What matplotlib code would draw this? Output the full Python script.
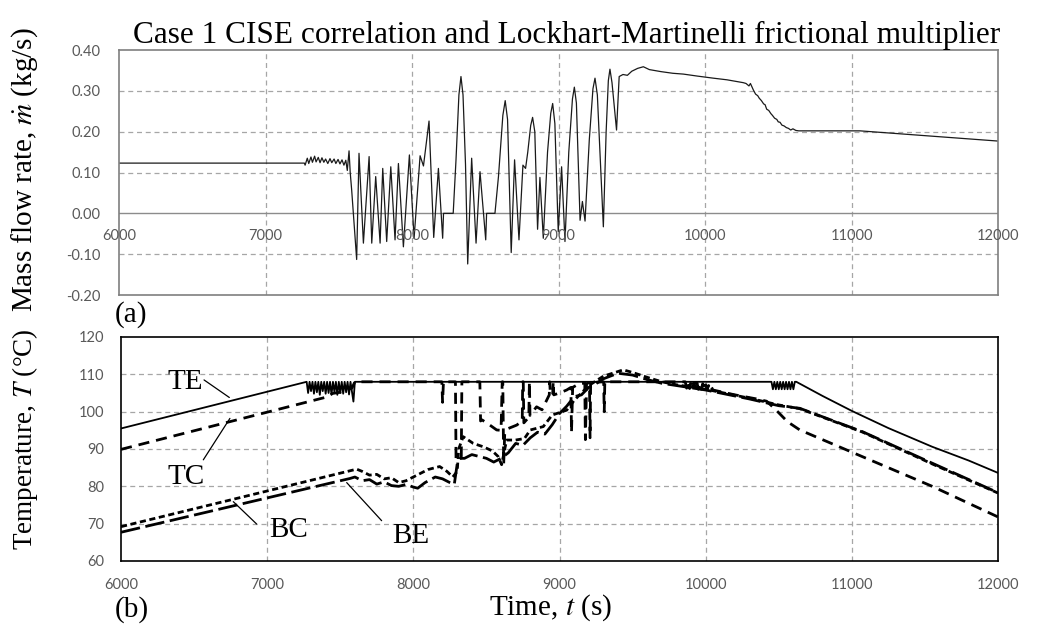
import matplotlib
matplotlib.use('Agg')
import matplotlib.pyplot as plt
import numpy as np

plt.rcParams['mathtext.fontset'] = 'stix'
SERIF = 'Liberation Serif'
TICKF = 'Lato'
TICKC = '#595959'

# ---- (a) mass flow rate ----
flow_t = [6000, 7265,
          7270, 7285, 7295, 7310, 7320, 7335, 7345, 7360, 7372, 7385, 7398, 7410,
          7425, 7440, 7452, 7468, 7480, 7495, 7508, 7522, 7535, 7548, 7558, 7570, 7578,
          7588, 7622, 7638, 7668, 7707, 7725, 7752, 7782, 7800, 7827, 7855, 7884,
          7907, 7941, 7982, 8014, 8055, 8078, 8116, 8148, 8180, 8209, 8215, 8281,
          8300, 8320, 8334, 8348, 8365, 8380, 8407, 8437, 8464, 8503, 8509, 8566,
          8590, 8620, 8636, 8652, 8677, 8700, 8730, 8757, 8775, 8790, 8810, 8823,
          8838, 8857, 8873, 8896, 8925, 8947, 8960, 8975, 8998, 9021, 9044, 9070,
          9095, 9108, 9122, 9147, 9163, 9181, 9210, 9235, 9249, 9265, 9306, 9325,
          9340, 9351, 9365, 9396, 9414, 9440, 9470, 9500, 9540, 9579,
          9620, 9700, 9780, 9852, 9950, 10057, 10150, 10261, 10280, 10300, 10310,
          10330, 10345, 10360, 10370, 10385, 10400, 10410, 10421, 10435, 10450,
          10460, 10475, 10490, 10500, 10512, 10525, 10540, 10555, 10570, 10585,
          10600, 10620, 10640, 10671, 11058, 12000]
flow_v = [0.123, 0.123,
          0.118, 0.135, 0.122, 0.138, 0.125, 0.140, 0.126, 0.137, 0.124, 0.136, 0.125, 0.133,
          0.122, 0.134, 0.124, 0.133, 0.122, 0.132, 0.121, 0.131, 0.118, 0.130, 0.105, 0.153, 0.100,
          0.057, -0.113, 0.147, -0.073, 0.139, -0.073, 0.090, -0.073, 0.110, -0.069, 0.114, -0.065,
          0.122, -0.082, 0.143, -0.061, 0.141, 0.116, 0.226, -0.059, 0.110, -0.061, 0.0, 0.0,
          0.130, 0.290, 0.335, 0.290, 0.120, -0.124, 0.135, -0.073, 0.102, -0.065, 0.0, 0.0,
          0.090, 0.240, 0.276, 0.230, -0.096, 0.131, -0.065, 0.118, 0.110, 0.150, 0.215, 0.235,
          0.200, -0.039, 0.088, -0.061, 0.150, 0.245, 0.269, 0.220, -0.045, 0.114, -0.069, 0.150,
          0.280, 0.309, 0.270, -0.017, 0.029, -0.019, 0.180, 0.305, 0.331, 0.290, -0.033, 0.200,
          0.325, 0.353, 0.320, 0.204, 0.335, 0.340, 0.338, 0.348, 0.355, 0.359,
          0.352, 0.347, 0.343, 0.341, 0.336, 0.331, 0.327, 0.320, 0.318, 0.312, 0.318,
          0.302, 0.292, 0.288, 0.282, 0.276, 0.268, 0.266, 0.255, 0.252, 0.244,
          0.240, 0.233, 0.230, 0.224, 0.223, 0.216, 0.214, 0.210, 0.208, 0.204,
          0.207, 0.203, 0.202, 0.202, 0.202, 0.177]

# ---- (b) temperatures ----
te_t = [6000, 7270, 7280, 7290, 7300, 7310, 7320, 7330, 7340, 7350, 7360, 7370, 7380,
        7390, 7400, 7410, 7420, 7430, 7440, 7450, 7460, 7470, 7480, 7490, 7500, 7510,
        7520, 7530, 7540, 7550, 7560, 7570, 7590, 7600, 10450, 10460, 10470, 10480,
        10490, 10500, 10510, 10520, 10530, 10540, 10550, 10560, 10570, 10580, 10590,
        10600, 10610, 10620, 10800, 11000, 11250, 11550, 11800, 12000]
te_v = [95.5, 108.0, 105.0, 108, 105.5, 108, 104.8, 108, 105.2, 108, 104.5, 108, 105.5,
        108, 104.8, 108, 105.0, 108, 104.6, 108, 105.3, 108, 104.5, 108, 105.0, 108,
        104.8, 108, 105.2, 108, 104.6, 108, 102.7, 108, 108, 106, 108, 106,
        108, 106, 108, 106, 108, 106, 108, 106, 108, 106, 108,
        106, 108, 108, 104.2, 100.2, 95.6, 90.6, 86.9, 83.6]

tc_t = [6000, 7395, 7450, 7500, 7540, 7580, 7600, 8195, 8200, 8206, 8288, 8292, 8310,
        8328, 8332, 8455, 8460, 8470, 8520, 8570, 8600, 8608, 8612, 8618, 8625, 8650,
        8707, 8745, 8748, 8752, 8756, 8790, 8794, 8798, 8843, 8880, 8930, 8933, 8937,
        8953, 8957, 8961, 9000, 9049, 9078, 9082, 9090, 9140, 9173, 9177, 9185, 9205,
        9209, 9213, 9302, 9306, 9310, 9860, 9870, 9880, 9890, 9900, 9910, 9920, 9930,
        9940, 9950, 9960, 9970, 9980, 9990, 10000, 10010, 10020, 10030, 10040, 10050,
        10200, 10350, 10417, 10480, 10560, 10644, 11075, 11550, 12000]
tc_v = [89.9, 103.8, 104.9, 105.2, 105.8, 106.3, 108, 108, 102.5, 108, 108, 87.5, 88.5,
        88.0, 108, 108, 97.5, 97.8, 96.5, 95.1, 95.0, 108, 108, 86.0, 94.0, 95.5,
        96.4, 97.5, 108, 108, 97.0, 98.5, 108, 99.0, 101.3, 100.5, 104.5, 108, 104.9,
        104.5, 108, 104.5, 105.0, 105.8, 106.5, 94.5, 106.5, 107.6, 107.6, 92.5, 107.5, 107.8,
        93.0, 107.8, 108, 100.0, 108, 108, 106.3, 108, 106.2, 107.9, 106.2, 107.8, 106.1,
        107.8, 106.0, 107.6, 106.0, 107.5, 105.9, 107.2, 105.9, 107.0, 105.8, 106.5, 105.8,
        104.5, 103.4, 102.8, 100.5, 97.3, 95.1, 87.9, 80.0, 71.8]

bc_t = [6000, 7612, 7650, 7700, 7750, 7800, 7850, 7900, 7950, 8000, 8050, 8100, 8180,
        8230, 8270, 8300, 8310, 8341, 8410, 8478, 8540, 8580, 8604, 8638, 8700, 8760,
        8800, 8889, 8950, 9049, 9100, 9150, 9200, 9300, 9436, 9500, 9600, 9700, 9800,
        9900, 10000, 10100, 10200, 10300, 10400, 10500, 10644, 11075, 11550, 12000]
bc_v = [69.2, 84.6, 84.0, 83.0, 83.2, 82.0, 82.3, 81.0, 81.5, 82.5, 83.5, 84.5, 85.3,
        84.0, 82.5, 84.0, 90.0, 93.3, 91.5, 90.6, 89.5, 88.0, 85.8, 92.4, 92.4, 92.8,
        95.1, 96.0, 99.1, 100.4, 103.0, 105.0, 107.0, 109.5, 111.2, 110.5, 109.2, 108.0, 107.2,
        106.6, 106.0, 105.2, 104.4, 103.6, 102.7, 101.8, 100.8, 94.5, 86.0, 78.2]

be_t = [6000, 7566, 7600, 7650, 7700, 7750, 7800, 7850, 7900, 7950, 8000, 8030, 8080,
        8150, 8200, 8250, 8280, 8300, 8320, 8350, 8400, 8450, 8500, 8550, 8600, 8650,
        8700, 8750, 8800, 8850, 8900, 8950, 9000, 9050, 9100, 9150, 9200, 9250, 9300,
        9400, 9500, 9600, 9700, 9800, 9900, 10000, 10100, 10200, 10300, 10400, 10500,
        10644, 11075, 11550, 12000]
be_v = [67.7, 82.1, 82.5, 81.5, 81.8, 80.6, 81.2, 80.2, 80.0, 80.5, 79.8, 79.5, 81.0,
        82.5, 82.0, 81.0, 80.5, 86.0, 87.5, 87.5, 88.5, 88.0, 87.5, 86.5, 87.5, 89.0,
        91.5, 91.0, 93.0, 94.5, 94.0, 96.5, 99.5, 101.5, 104.0, 104.5, 106.5, 107.5, 108.8,
        110.3, 109.8, 108.6, 107.6, 107.0, 106.4, 105.8, 105.0, 104.2, 103.4, 102.5, 101.6,
        100.9, 94.6, 86.2, 78.3]

fig = plt.figure(figsize=(10.37, 6.25), dpi=100)
ax1 = fig.add_axes([0.1148, 0.528, 0.8476, 0.392])
ax2 = fig.add_axes([0.1167, 0.1024, 0.8457, 0.3584])

grid_kw = dict(color='#a6a6a6', lw=0.9, ls=(0, (4, 3)))

# top panel
ax1.plot(flow_t, flow_v, color='#1a1a1a', lw=0.9)
ax1.axhline(0, color='#8c8c8c', lw=1.0, zorder=1)
ax1.set_xlim(6000, 12000)
ax1.set_ylim(-0.2, 0.4)
ax1.set_yticks(np.arange(-0.2, 0.41, 0.1))
ax1.set_yticklabels(['-0.20', '-0.10', '0.00', '0.10', '0.20', '0.30', '0.40'])
ax1.set_xticks(np.arange(6000, 12001, 1000))
ax1.set_xticklabels([])
ax1.tick_params(length=0, pad=13, labelsize=10.5, labelcolor=TICKC)
for t in ax1.get_yticklabels():
    t.set_fontfamily(TICKF)
for x in range(7000, 12000, 1000):
    ax1.axvline(x, **grid_kw, zorder=0)
for y in [-0.1, 0.1, 0.2, 0.3]:
    ax1.axhline(y, **grid_kw, zorder=0)
for x in range(6000, 12001, 1000):
    ax1.annotate(str(x), xy=(x, 0), xytext=(0, -11), textcoords='offset points',
                 ha='center', va='top', fontsize=10.5, color=TICKC, family=TICKF)
for s in ax1.spines.values():
    s.set_color('#7f7f7f')
    s.set_linewidth(1.2)
ax1.set_title('Case 1 CISE correlation and Lockhart-Martinelli frictional multiplier',
              family=SERIF, fontsize=22.5, pad=3, x=0.509)
ax1.set_ylabel(r'Mass flow rate, $\dot{m}$ (kg/s)', family=SERIF, fontsize=21)
ax1.yaxis.set_label_coords(-0.090, 0.51)

# bottom panel
ax2.plot(te_t, te_v, color='black', lw=1.3)
ax2.plot(tc_t, tc_v, color='black', lw=2.0, dashes=(4, 2.5))
ax2.plot(bc_t, bc_v, color='black', lw=2.0, dashes=(2.2, 1.3))
ax2.plot(be_t, be_v, color='black', lw=2.0, dashes=(7, 2))
ax2.set_xlim(6000, 12000)
ax2.set_ylim(60, 120)
ax2.set_yticks(range(60, 121, 10))
ax2.set_xticks(range(6000, 12001, 1000))
ax2.tick_params(length=0, pad=12, labelsize=10.5, labelcolor=TICKC)
for t in ax2.get_xticklabels() + ax2.get_yticklabels():
    t.set_fontfamily(TICKF)
for x in range(7000, 12000, 1000):
    ax2.axvline(x, **grid_kw, zorder=0)
for y in range(70, 120, 10):
    ax2.axhline(y, **grid_kw, zorder=0)
for s in ax2.spines.values():
    s.set_color('black')
    s.set_linewidth(1.2)
ax2.set_ylabel(r'Temperature, $T$ (°C)', family=SERIF, fontsize=19.5)
ax2.yaxis.set_label_coords(-0.092, 0.545)
ax2.set_xlabel(r'Time, $t$ (s)', family=SERIF, fontsize=21)
ax2.xaxis.set_label_coords(0.490, -0.14)

# curve labels
ann = dict(family=SERIF, fontsize=21, ha='center', va='center')
arr = dict(arrowstyle='-', color='black', lw=0.9, shrinkA=0, shrinkB=0)
ax2.text(6438, 108.0, 'TE', **ann)
ax2.annotate('', xy=(6741, 103.8), xytext=(6568, 108.5), arrowprops=arr)
ax2.text(6445, 82.5, 'TC', **ann)
ax2.annotate('', xy=(6745, 98.2), xytext=(6563, 87.1), arrowprops=arr)
ax2.text(7149, 68.3, 'BC', **ann)
ax2.annotate('', xy=(6768, 75.9), xytext=(6928, 69.9), arrowprops=arr)
ax2.text(7984, 66.7, 'BE', **ann)
ax2.annotate('', xy=(7544, 81.0), xytext=(7783, 70.8), arrowprops=arr)

fig.text(115 / 1037, 1 - 315 / 625, '(a)', family=SERIF, fontsize=21, ha='left', va='center')
fig.text(115 / 1037, 1 - 610 / 625, '(b)', family=SERIF, fontsize=21, ha='left', va='center')

fig.savefig('out.png', dpi=100)
